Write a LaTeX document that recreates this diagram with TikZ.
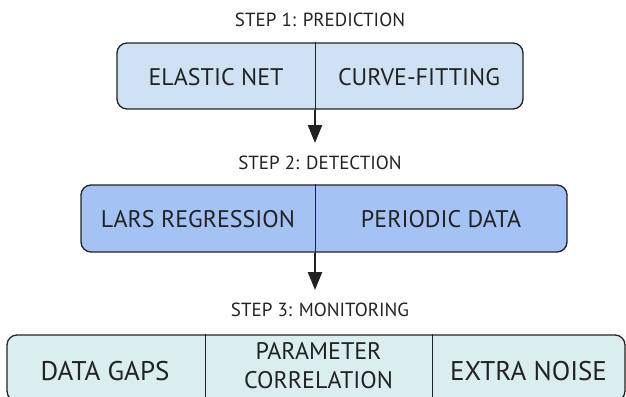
\documentclass[tikz,border=0pt]{standalone}
\usepackage{fontspec}
\setmainfont{PT Sans}
\usetikzlibrary{arrows.meta}
\definecolor{predfill}{HTML}{CFE2F3}
\definecolor{detfill}{HTML}{A4C2F4}
\definecolor{monfill}{HTML}{DAEEF0}
\definecolor{ink}{HTML}{222222}
\tikzset{
  stage/.style={draw=ink, line width=1.3pt, rounded corners=10pt, minimum height=66pt, inner sep=0pt},
  cell/.style={font=\fontsize{24}{29}\selectfont, text=ink, align=center},
  bigcell/.style={cell, font=\fontsize{27}{32}\selectfont},
  steplabel/.style={font=\fontsize{19}{22}\selectfont, text=ink},
  flow/.style={-{Triangle[width=14pt,length=18pt]}, line width=2.5pt, draw=ink},
}
\begin{document}
\begin{tikzpicture}[x=1pt,y=-1pt]
      \useasboundingbox (0,0) rectangle (626,396);
      \clip (0,0) rectangle (626,396);
      \draw
        (320,20) node[steplabel] (s1){STEP 1: PREDICTION}
        (320,76) node[stage, fill=predfill, minimum width=406pt] (pred){}
        (216,77) node[cell] (elastic){ELASTIC NET}
        (419,77) node[cell] (curve){CURVE-FITTING}
        (320,163) node[steplabel] (s2){STEP 2: DETECTION}
        (324,218.5) node[stage, fill=detfill, minimum width=486pt, minimum height=67pt] (det){}
        (198,219) node[cell] (lars){LARS REGRESSION}
        (441,219) node[cell] (periodic){PERIODIC DATA}
        (320,310) node[steplabel] (s3){STEP 3: MONITORING}
        (316,368) node[stage, fill=monfill, minimum width=618pt] (mon){}
        (105,371) node[bigcell] (gaps){DATA GAPS}
        (318.5,366) node[cell] (corr){PARAMETER\\CORRELATION}
        (528.5,371) node[bigcell] (noise){EXTRA NOISE};
      \coordinate (d1) at (315,0);
      \coordinate (d2) at (205,0);
      \coordinate (d3) at (432,0);
      \coordinate (t1) at (315,143);
      \coordinate (t2) at (315,290);
      \begin{scope}[draw=ink, line width=1pt]
        \draw (d1 |- pred.north) to (d1 |- pred.south);
        \draw (d1 |- det.north) to (d1 |- det.south);
        \draw (d2 |- mon.north) to (d2 |- mon.south);
        \draw (d3 |- mon.north) to (d3 |- mon.south);
      \end{scope}
      \begin{scope}[flow]
        \draw (d1 |- pred.south) to (t1);
        \draw (d1 |- det.south) to (t2);
      \end{scope}
    \end{tikzpicture}
\end{document}
